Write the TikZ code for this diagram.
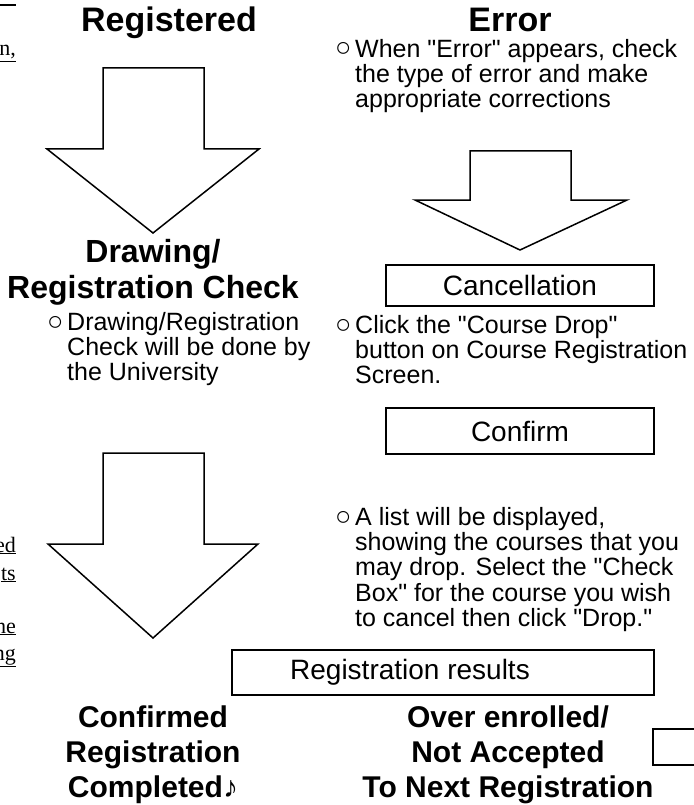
\documentclass[tikz,border=0pt]{standalone}
\usepackage{fontspec}
\setmainfont{Liberation Sans}[Ligatures=TeXOff]
\newfontfamily\serifpart{Liberation Serif}
\begin{document}
\begin{tikzpicture}[x=1pt,y=-1pt,
  blockarrow/.style={draw=black,line width=1.5pt,fill=white,line join=miter},
  tophead/.style={font=\fontsize{34}{37}\selectfont\bfseries,anchor=base,inner sep=0pt},
  head/.style={font=\fontsize{32}{36}\selectfont\bfseries,align=center,inner sep=0pt},
  bothead/.style={font=\fontsize{30}{35}\selectfont\bfseries,align=center,inner sep=0pt},
  body/.style={font=\fontsize{25}{25.3}\selectfont,align=left,anchor=north west,inner sep=0pt},
  bul/.style={font=\fontsize{27}{25.3}\selectfont,anchor=base west,inner sep=0pt},
  labelbox/.style={draw=black,line width=1.5pt,font=\fontsize{28}{30}\selectfont,inner sep=0pt},
  frag/.style={font=\serifpart\fontsize{22}{24}\selectfont,anchor=base east,inner sep=0pt}]
\useasboundingbox (0,0) rectangle (693,805);
% margin fragments from neighbouring page
\draw[line width=1.2pt] (0,5) -- (16,5);
\node[frag] (f1) at (16,56) {\underline{n,}};
\node[frag] (f2) at (16,552) {\underline{ed}};
\node[frag] (f3) at (16,580) {\underline{ts}};
\node[frag] (f4) at (16,633) {\underline{he}};
\node[frag] (f5) at (16,660) {\underline{ng}};
% headings
\node[tophead] (reg) at (169,32) {Registered};
\node[tophead] (err) at (510,32) {Error};
% error bullet
\node[body] (t1) at (355,39) {When "Error" appears, check\\the type of error and make\\appropriate corrections};
% arrow 1 (left)
\draw[blockarrow] (103,68) -- (204,68) -- (204,149) -- (259,149) -- (153,233) -- (47,149) -- (103,149) -- cycle;
% arrow 3 (right)
\draw[blockarrow] (470,151) -- (571,151) -- (571,200) -- (627,200) -- (520,250) -- (415,200) -- (470,200) -- cycle;
% drawing check
\node[head] (draw) at (153,272) {Drawing/\\Registration Check};
\node[body] (t2) at (67,312) {Drawing/Registration\\Check will be done by\\the University};
% cancellation
\node[labelbox,minimum width=268pt,minimum height=41pt] (canc) at (520,285.5) {Cancellation};
\node[body] (t3) at (355,315) {Click the "Course Drop"\\button on Course Registration\\Screen.};
\node[labelbox,minimum width=268pt,minimum height=46pt] (conf) at (520,431) {Confirm};
\node[body] (t4) at (355,507) {A list will be displayed,\\showing the courses that you\\may drop. Select the "Check\\Box" for the course you wish\\to cancel then click "Drop."};
% bullets aligned with the first baseline of each text
\path (t1.north west) ++(-20,18) node[bul] (b1) {○};
\path (t2.north west) ++(-20,18) node[bul] (b2) {○};
\path (t3.north west) ++(-20,18) node[bul] (b3) {○};
\path (t4.north west) ++(-20,18) node[bul] (b4) {○};
% arrow 2 (left, long)
\draw[blockarrow] (103,453) -- (204,453) -- (204,544) -- (258,544) -- (153,638) -- (48,544) -- (103,544) -- cycle;
% results
\node[draw=black,line width=1.5pt,minimum width=422pt,minimum height=45pt,inner sep=0pt] (resbox) at (443,672.5) {};
\node[font=\fontsize{28}{30}\selectfont,inner sep=0pt] (res) at (410,672) {Registration results};
\node[bothead] (ok) at (153,755) {Confirmed\\Registration\\Completed♪};
\node[bothead] (ng) at (508,755) {Over enrolled/\\Not Accepted\\To Next Registration};
\draw[line width=1.5pt] (700,729) -- (653,729) -- (653,765) -- (700,765);
\end{tikzpicture}
\end{document}
